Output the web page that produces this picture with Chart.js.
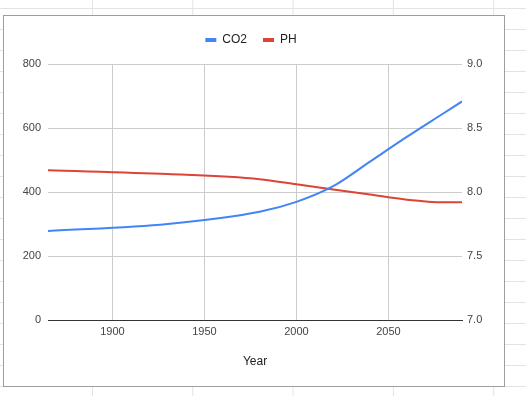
<!DOCTYPE html>
<html>
<head>
<meta charset="utf-8">
<script src="https://cdn.jsdelivr.net/npm/chart.js@4.4.1/dist/chart.umd.min.js"></script>
<style>
    html, body { margin: 0; padding: 0; }
    body {
        width: 526px; height: 396px; position: relative; overflow: hidden;
        background-color: #fff;
        background-image:
            linear-gradient(to right, #e2e3e3 1px, transparent 1px),
            linear-gradient(to bottom, #e2e3e3 1px, transparent 1px);
        background-size: 100.3px 100%, 100% 21px;
        background-position: 92px 0, 0 8px;
    }
    #box {
        position: absolute; left: 3px; top: 15px; width: 500px; height: 370px;
        border: 1px solid #9e9e9e; background: #fff;
    }
    #chart { position: absolute; left: 0; top: 0; }
</style>
</head>
<body>
<div id="box"></div>
<canvas id="chart" width="526" height="396"></canvas>
<script>
// ── Data ──
const years = [1865, 1930, 1980, 2000, 2020, 2040, 2060, 2080, 2090];
const co2   = [278, 300, 338, 369, 418, 495, 572, 646, 683];
const ph    = [8.17, 8.14, 8.10, 8.06, 8.02, 7.98, 7.94, 7.92, 7.92];

const xTicks     = [1900, 1950, 2000, 2050];
const co2Ticks   = [0, 200, 400, 600, 800];
const phTicks    = [7.0, 7.5, 8.0, 8.5, 9.0];

const blue = '#4285f4';
const red = '#db4437';
const font = '"Liberation Sans", Arial, sans-serif';

const toPoints = vals => years.map((y, i) => ({ x: y, y: vals[i] }));
const setTicks = list => scale => { scale.ticks = list.map(v => ({ value: v })); };

new Chart(document.getElementById('chart'), {
    type: 'line',
    data: {
        datasets: [
            {
                label: 'CO2',
                data: toPoints(co2),
                borderColor: blue,
                backgroundColor: blue,
                borderWidth: 2,
                pointRadius: 0,
                cubicInterpolationMode: 'monotone',
                yAxisID: 'y',
            },
            {
                label: 'PH',
                data: toPoints(ph),
                borderColor: red,
                backgroundColor: red,
                borderWidth: 2,
                pointRadius: 0,
                cubicInterpolationMode: 'monotone',
                yAxisID: 'y1',
            }
        ]
    },
    options: {
        responsive: false,
        animation: false,
        layout: { padding: { top: 18, left: 0, right: 24, bottom: 26 } },
        plugins: {
            tooltip: { enabled: false },
            legend: {
                position: 'top',
                labels: {
                    boxWidth: 11,
                    boxHeight: 4,
                    padding: 16,
                    color: '#222',
                    font: { family: font, size: 12 },
                    generateLabels: chart =>
                        Chart.defaults.plugins.legend.labels.generateLabels(chart)
                            .map(l => Object.assign(l, { lineWidth: 0 }))
                }
            }
        },
        scales: {
            x: {
                type: 'linear',
                min: 1865, max: 2090,
                afterBuildTicks: setTicks(xTicks),
                afterFit: s => { s.height = 50; },
                grid: { color: '#cccccc', drawTicks: false },
                border: { display: true, color: '#333', width: 1 },
                ticks: { font: { family: font, size: 11 }, color: '#444', padding: 5, maxRotation: 0,
                         callback: v => String(v) },
                title: { display: true, text: 'Year', color: '#222',
                         font: { family: font, size: 12 }, padding: { top: 0, bottom: 1 } }
            },
            // empty strip: gap between legend and plot
            gap: {
                type: 'linear',
                position: 'top',
                afterFit: s => { s.height = 8; },
                grid: { display: false },
                border: { display: false },
                ticks: { display: false }
            },
            y: {
                position: 'left',
                min: 0, max: 800,
                afterBuildTicks: setTicks(co2Ticks),
                afterFit: s => { s.width = 48; },
                grid: { color: ctx => ctx.tick && ctx.tick.value === 0 ? '#333' : '#cccccc', drawTicks: false },
                border: { display: false },
                ticks: { font: { family: font, size: 11 }, color: '#444', padding: 7 }
            },
            y1: {
                position: 'right',
                min: 7, max: 9,
                afterBuildTicks: setTicks(phTicks),
                afterFit: s => { s.width = 40; },
                grid: { display: false, drawTicks: false },
                border: { display: false },
                ticks: { font: { family: font, size: 11 }, color: '#444', padding: 5,
                         callback: v => Number(v).toFixed(1) }
            }
        }
    }
});
</script>
</body>
</html>
